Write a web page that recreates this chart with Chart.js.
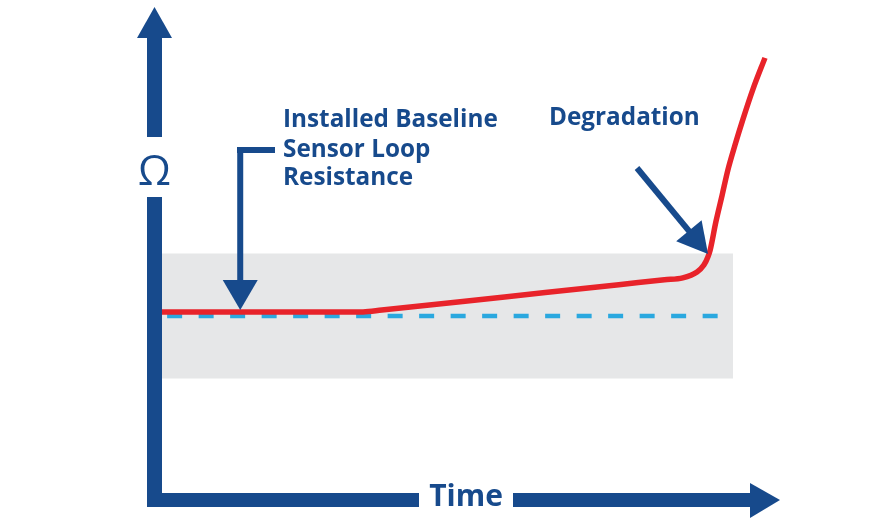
<!DOCTYPE html>
<html>
<head>
<meta charset="utf-8">
<script src="https://cdn.jsdelivr.net/npm/chart.js@4/dist/chart.umd.min.js"></script>
<style>
  html, body { margin: 0; padding: 0; background: #ffffff; }
  #wrap { width: 886px; height: 531px; position: relative; }
</style>
</head>
<body>
<div id="wrap"><canvas id="c" width="886" height="531"></canvas></div>
<script>
// ---- Data (time units 0..100 across the tolerance band, resistance in relative units) ----
const timeValues       = [0, 35.2, 38.5, 60, 80, 88, 91.2, 93.7, 94.9, 95.6, 96.0, 97.0, 98.1, 99.1, 100.35, 101.75, 103.5, 105.6];
const resistanceValues = [101.3, 101.3, 101.9, 106.1, 110.0, 111.6, 112.2, 114.1, 116.3, 118.9, 121.1, 130.1, 138.7, 146.7, 154.7, 163.0, 172.6, 182.6];
const baselineTime     = [0.9, 100];
const baselineValue    = [100, 100];
const bandTime         = [0, 100];
const bandLimits       = [80, 120];
const axisLabels       = ['Time', 'Ω'];
const annotationBaseline = ['Installed Baseline', 'Sensor Loop', 'Resistance'];
const annotationDegradation = ['Degradation'];
const baselineArrowTime = 13.7;

const BLUE = '#174a8c';
const RED = '#e8232a';

const decorPlugin = {
  id: 'decor',
  beforeDatasetsDraw(chart) {
    const ctx = chart.ctx, x = chart.scales.x, y = chart.scales.y;
    const l = x.getPixelForValue(bandTime[0]), r = x.getPixelForValue(bandTime[1]);
    const t = y.getPixelForValue(bandLimits[1]), b = y.getPixelForValue(bandLimits[0]);
    ctx.save();
    ctx.fillStyle = '#e6e7e8';
    ctx.fillRect(l, t, r - l, b - t);
    ctx.restore();
  },
  afterDatasetsDraw(chart) {
    const ctx = chart.ctx, xs = chart.scales.x, ys = chart.scales.y;
    ctx.save();
    ctx.fillStyle = BLUE;
    ctx.strokeStyle = BLUE;

    // Y axis arrow (with gap for Ω)
    ctx.fillRect(147, 37, 15, 100);
    ctx.fillRect(147, 197, 15, 310);
    ctx.beginPath();
    ctx.moveTo(154.5, 7); ctx.lineTo(172, 38); ctx.lineTo(137, 38); ctx.closePath(); ctx.fill();

    // X axis arrow (with gap for Time)
    ctx.fillRect(147, 493, 272, 14);
    ctx.fillRect(513, 493, 238, 14);
    ctx.beginPath();
    ctx.moveTo(780, 500); ctx.lineTo(750, 483); ctx.lineTo(750, 518); ctx.closePath(); ctx.fill();

    // Axis labels
    ctx.textAlign = 'center';
    ctx.textBaseline = 'alphabetic';
    ctx.font = 'bold 30px "Open Sans"';
    ctx.fillText(axisLabels[0], 466, 506);
    ctx.font = '42px "Open Sans"';
    ctx.fillText(axisLabels[1], 154.5, 185);

    // Baseline annotation arrow
    const ax = xs.getPixelForValue(baselineArrowTime);
    const tipY = ys.getPixelForValue(resistanceValues[0]) - 2;
    ctx.fillRect(237, 147, 38, 6);
    ctx.fillRect(ax - 3, 147, 6, tipY - 30 - 147 + 1);
    ctx.beginPath();
    ctx.moveTo(ax, tipY); ctx.lineTo(ax + 17.5, tipY - 30); ctx.lineTo(ax - 17.5, tipY - 30); ctx.closePath(); ctx.fill();

    // Degradation arrow
    const tx = 708, ty = 254, sx = 637, sy = 168;
    const dx = tx - sx, dy = ty - sy, len = Math.hypot(dx, dy);
    const ux = dx / len, uy = dy / len;
    const hl = 30, hw = 16.5;
    const bx = tx - ux * hl, by = ty - uy * hl;
    ctx.lineWidth = 6;
    ctx.lineCap = 'butt';
    ctx.beginPath(); ctx.moveTo(sx, sy); ctx.lineTo(bx + ux, by + uy); ctx.stroke();
    ctx.beginPath();
    ctx.moveTo(tx, ty);
    ctx.lineTo(bx - uy * hw, by + ux * hw);
    ctx.lineTo(bx + uy * hw, by - ux * hw);
    ctx.closePath(); ctx.fill();

    // Annotation texts
    ctx.textAlign = 'left';
    ctx.font = 'bold 24.3px "Open Sans"';
    const baselines = [127, 156.5, 185];
    annotationBaseline.forEach((s, i) => ctx.fillText(s, 283, baselines[i]));
    ctx.fillText(annotationDegradation[0], 549, 125);
    ctx.restore();
  }
};

new Chart(document.getElementById('c'), {
  type: 'line',
  data: {
    datasets: [
      {
        label: 'Loop resistance',
        data: timeValues.map((t, i) => ({ x: t, y: resistanceValues[i] })),
        borderColor: RED,
        borderWidth: 5.5,
        pointRadius: 0,
        cubicInterpolationMode: 'monotone',
        clip: false,
        borderCapStyle: 'butt'
      },
      {
        label: 'Baseline',
        data: baselineTime.map((t, i) => ({ x: t, y: baselineValue[i] })),
        borderColor: '#2aa8df',
        borderWidth: 4.5,
        borderDash: [15, 16.5],
        pointRadius: 0,
        clip: false
      }
    ]
  },
  options: {
    responsive: false,
    animation: false,
    events: [],
    layout: { padding: { left: 162, right: 95.9, top: 34.75, bottom: 90 } },
    scales: {
      x: { type: 'linear', min: 0, max: 110, display: false },
      y: { type: 'linear', min: 60, max: 190, display: false }
    },
    plugins: { legend: { display: false }, tooltip: { enabled: false } }
  },
  plugins: [decorPlugin]
});
</script>
</body>
</html>
